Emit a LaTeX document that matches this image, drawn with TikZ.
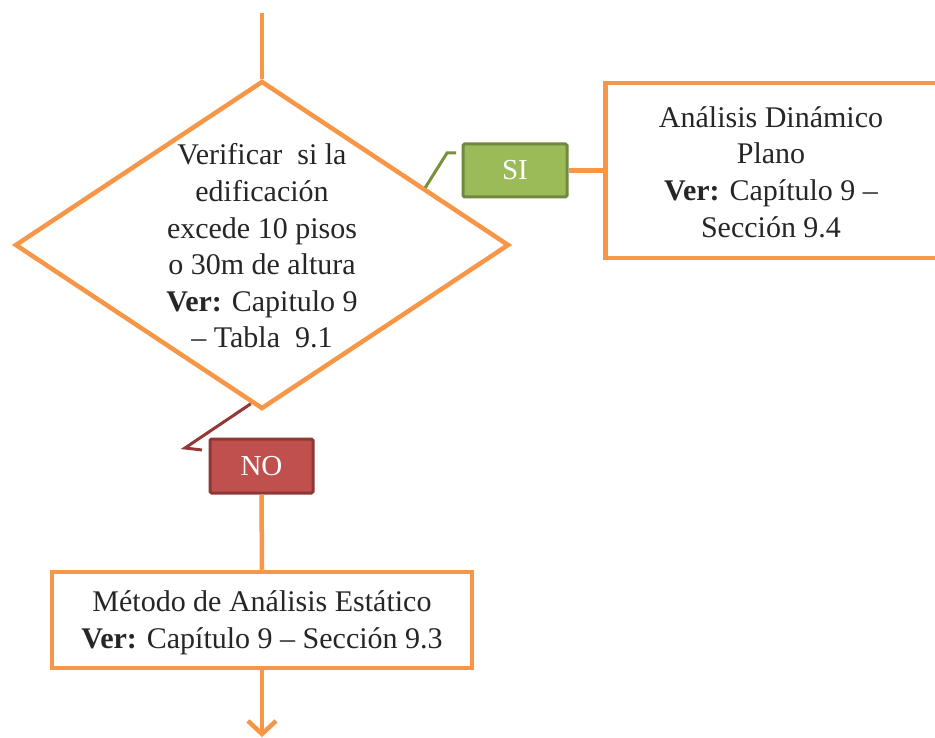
\documentclass[tikz,border=0pt]{standalone}
\usepackage{fontspec}
\setmainfont{Liberation Serif}
\newfontfamily\bodyserif{Liberation Serif}
\usetikzlibrary{shapes.geometric,arrows.meta,calc}

\definecolor{flowline}{HTML}{F79646}
\definecolor{yesfill}{HTML}{9BBB59}
\definecolor{yesdraw}{HTML}{71893F}
\definecolor{nofill}{HTML}{C0504D}
\definecolor{nodraw}{HTML}{8C3836}
\definecolor{notelead}{HTML}{953735}
\definecolor{yeslead}{HTML}{76923C}

\tikzset{
  txt/.style={font=\bodyserif\fontsize{30}{36.6}\selectfont, align=center, text=black!85},
  flowbox/.style={draw=flowline, line width=4.5pt, fill=white, rectangle, inner sep=0pt},
  decision/.style={draw=flowline, line width=4.5pt, fill=white, shape=diamond, inner sep=0pt},
  flow/.style={draw=flowline, line width=4.5pt},
  yesbox/.style={draw=yesdraw, fill=yesfill, line width=3pt, rounded corners=1.5pt,
    text=white, font=\bodyserif\fontsize{29}{34}\selectfont, inner sep=0pt},
  nobox/.style={draw=nodraw, fill=nofill, line width=3pt, rounded corners=1.5pt,
    text=white, font=\bodyserif\fontsize{29}{34}\selectfont, inner sep=0pt},
  yeslink/.style={draw=yeslead, line width=3pt},
  nolink/.style={draw=notelead, line width=3pt},
}

\begin{document}
\begin{tikzpicture}[x=1pt, y=-1pt]
  \useasboundingbox[fill=white] (0,0) rectangle (935,738);

  % flow entry and decision
  \coordinate (entry) at (262,13);
  \node[decision, minimum width=494pt, minimum height=328pt] (check) at (262,245) {};
  \node[txt] (checktext) at (262,246)
    {Verificar~ si la\\edificación\\excede 10 pisos\\o 30m de altura\\
     \textbf{Ver:} Capitulo 9\\– Tabla~ 9.1};

  % branch labels
  \node[yesbox, minimum width=104pt, minimum height=53pt] (yes) at (515,170.5) {SI};
  \node[nobox, minimum width=103pt, minimum height=54pt] (no) at (261.5,466) {NO};

  % result boxes
  \node[flowbox, anchor=west, minimum width=345pt, minimum height=175pt] (dyn) at (603,170.5) {};
  \node[txt] (dyntext) at (771,172)
    {Análisis Dinámico\\Plano\\\textbf{Ver:} Capítulo 9 –\\Sección 9.4};
  \node[flowbox, minimum width=420pt, minimum height=96pt] (static) at (262,620) {};
  \node[txt] (statictext) at (262,623)
    {Método de Análisis Estático\\\textbf{Ver:} Capítulo 9 – Sección 9.3};
  \coordinate (exit) at (262,737);

  % connectors
  \draw[flow] (entry) -- (check.north);
  \draw[flow] (yes.east) -- (dyn.west);
  \draw[flow] (no.south) -- (static.north);
  \draw[flow, -{Straight Barb[length=13pt, width=28pt]}] (static.south) -- (exit);

  % callout leaders from the decision to the branch labels
  \coordinate (yesfoot) at ($(check.north)!0.655!(check.east)$);
  \coordinate (yesbend) at (447,153);
  \coordinate (yesend) at (456,153);
  \draw[yeslink] (yesfoot) -- (yesbend) -- (yesend);
  \coordinate (nofoot) at ($(check.west)!0.955!(check.south)$);
  \coordinate (nobend) at (185,448);
  \coordinate (noend) at (202,450);
  \draw[nolink] (nofoot) -- (nobend) -- (noend);
\end{tikzpicture}
\end{document}
